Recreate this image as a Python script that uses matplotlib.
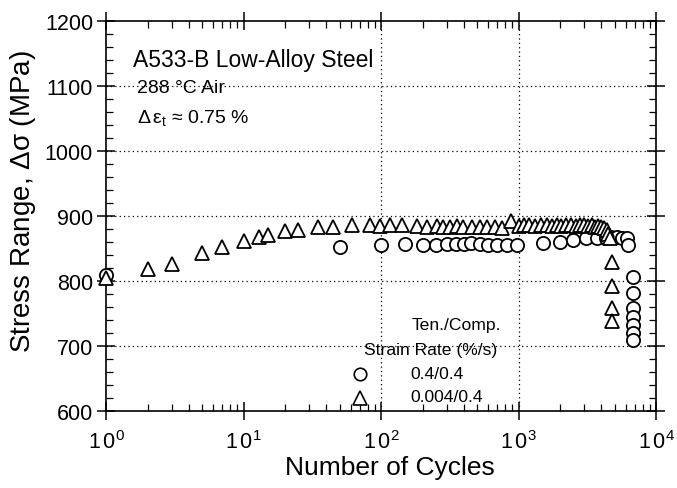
import numpy as np
import matplotlib
matplotlib.use("Agg")
import matplotlib.pyplot as plt
from matplotlib.ticker import FixedLocator, LogLocator, MultipleLocator, FixedFormatter

plt.rcParams["font.family"] = ["Liberation Sans", "DejaVu Sans"]
plt.rcParams["mathtext.fontset"] = "custom"
plt.rcParams["mathtext.rm"] = "Liberation Sans"
plt.rcParams["mathtext.it"] = "Liberation Sans:italic"

# --- 0.4/0.4 %/s（圆圈）---
n_fast = [1, 50, 100, 150, 200, 250, 300, 350, 400, 450, 520, 600, 700, 820, 980,
          1500, 2000, 2500, 3100, 3700, 4300, 4700, 5200, 5700, 6100, 6300,
          6800, 6800, 6800, 6800, 6800, 6800, 6800]
s_fast = [809, 853, 855, 857, 856, 856, 857, 857, 857, 858, 857, 856, 855, 855, 855,
          858, 860, 863, 866, 867, 867, 868, 868, 867, 866, 855,
          807, 782, 758, 745, 733, 721, 710]

# --- 0.004/0.4 %/s（三角）---
n_slow = [1, 2, 3, 5, 7, 10, 13, 15, 20, 25, 35, 45, 61, 83, 98, 116, 141, 183,
          217, 254, 281, 318, 356, 392, 455, 522, 586, 673, 754, 886, 1000,
          1100, 1200, 1320, 1450, 1600, 1750, 1900, 2050, 2200, 2400, 2600,
          2800, 3000, 3200, 3400, 3600, 3800, 4000, 4200, 4400, 4500, 4600,
          4800, 4800, 4800, 4800]
s_slow = [805, 818, 827, 844, 852, 862, 868, 871, 877, 878, 883, 883, 886, 886, 885,
          886, 886, 885, 884, 885, 884, 884, 885, 884, 884, 884, 883, 883, 882, 893, 885,
          887, 886, 885, 887, 886, 885, 886, 885, 886, 887, 885,
          886, 887, 885, 886, 884, 885, 884, 882, 878, 872, 866,
          830, 792, 758, 738]

y_major = [600, 700, 800, 900, 1000, 1100, 1200]
x_major = [1, 10, 100, 1000, 10000]
x_labels = [r"$\mathregular{1\,0^{%d}}$" % k for k in range(5)]

fig = plt.figure(figsize=(6.77, 4.89), dpi=100)
ax = fig.add_axes([0.157, 0.157, 0.812, 0.798])

# 网格：只在部分位置画点线
for yv in [700, 800, 900, 1000, 1100]:
    ax.axhline(yv, color="black", lw=0.9, ls=(0, (1, 2.5)), zorder=1)
for xv in [100, 1000]:
    ax.axvline(xv, color="black", lw=0.9, ls=(0, (1, 2.5)), zorder=1)

ax.plot(n_fast, s_fast, "o", ms=9.5, mfc="white", mec="black", mew=1.3,
        ls="none", zorder=3, clip_on=False)
ax.plot(n_slow, s_slow, "^", ms=10, mfc="white", mec="black", mew=1.3,
        ls="none", zorder=3, clip_on=False)

ax.set_xscale("log")
ax.set_xlim(1, 1e4)
ax.set_ylim(600, 1200)

ax.xaxis.set_major_locator(FixedLocator(x_major))
ax.xaxis.set_major_formatter(FixedFormatter(x_labels))
ax.xaxis.set_minor_locator(LogLocator(base=10, subs=np.arange(2, 10)))
ax.xaxis.set_minor_formatter(plt.NullFormatter())
ax.yaxis.set_major_locator(FixedLocator(y_major))
ax.yaxis.set_minor_locator(MultipleLocator(20))

ax.tick_params(which="major", direction="inout", length=13, width=1.1,
               top=True, right=True, labelsize=15.5, pad=3)
ax.tick_params(which="minor", direction="in", length=5, width=0.9,
               top=True, right=True)
ax.tick_params(axis="x", which="major", pad=7)
for sp in ax.spines.values():
    sp.set_linewidth(1.2)

ax.set_xlabel("Number of Cycles", fontsize=19)
ax.xaxis.set_label_coords(0.515, -0.112)
ax.set_ylabel(r"Stress Range, $\mathregular{\Delta\sigma}$ (MPa)", fontsize=20)
ax.yaxis.set_label_coords(-0.125, 0.541)

ax.text(1.57, 1141, "A533-B Low-Alloy Steel", fontsize=16.5, va="center")
ax.text(1.68, 1097, "288 °C Air", fontsize=14, va="center")
ax.text(1.68, 1052, r"$\mathregular{\Delta\,\varepsilon_t}$ ≈ 0.75 %", fontsize=14, va="center")

# 图例（手工排版）
ax.text(351, 734, "Ten./Comp.", fontsize=12.6, ha="center", va="center")
ax.text(231, 695, "Strain Rate (%/s)", fontsize=12.6, ha="center", va="center")
ax.plot([70], [657], "o", ms=9, mfc="white", mec="black", mew=1.2)
ax.text(163, 658, "0.4/0.4", fontsize=12.6, va="center")
ax.plot([70], [621], "^", ms=9.5, mfc="white", mec="black", mew=1.2)
ax.text(163, 623, "0.004/0.4", fontsize=12.6, va="center")

fig.savefig("out.png", dpi=100)
